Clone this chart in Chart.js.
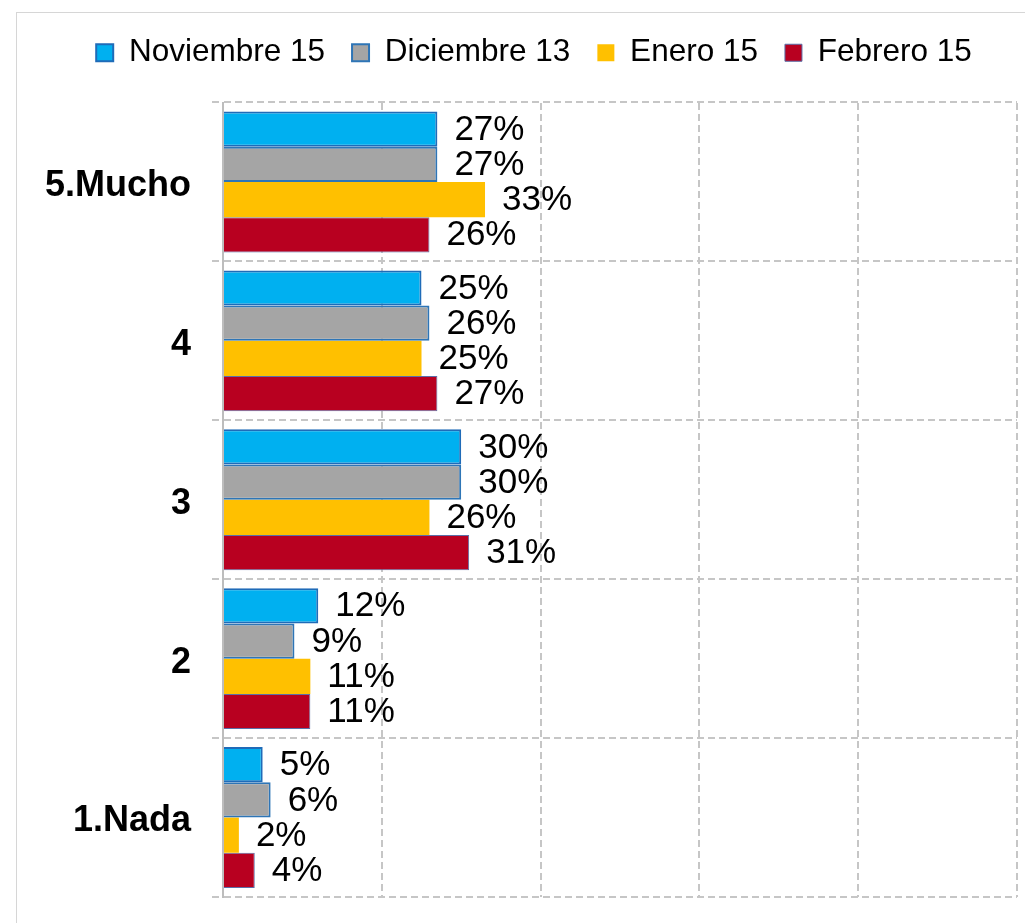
<!DOCTYPE html>
<html>
<head>
<meta charset="utf-8">
<script src="https://cdn.jsdelivr.net/npm/chart.js@4.4.0/dist/chart.umd.min.js"></script>
<style>
body { margin: 0; background: #fff; overflow: hidden; }
#frame { position: absolute; left: 16px; top: 12px; width: 1040px; height: 940px; border: 1px solid #d6d6d6; }
</style>
</head>
<body>
<div id="frame"><canvas id="myChart" width="1040" height="940"></canvas></div>
<script>
var Categorias = ['5.Mucho', '4', '3', '2', '1.Nada'];
var Noviembre15 = [27, 25, 30, 12, 5];
var Diciembre13 = [27, 26, 30, 9, 6];
var Enero15 = [33, 25, 26, 11, 2];
var Febrero15 = [26, 27, 31, 11, 4];
var xTicks = [0, 20, 40, 60, 80, 100];

var fuente = '"Liberation Sans", Arial, sans-serif';
var gridColor = '#c6c6c6';

// etiquetas de porcentaje al final de cada barra
var etiquetas = {
  id: 'etiquetas',
  afterDatasetsDraw: function(chart) {
    var c = chart.ctx;
    c.save();
    c.font = '35px ' + fuente;
    c.fillStyle = '#000';
    c.textAlign = 'left';
    c.textBaseline = 'middle';
    chart.data.datasets.forEach(function(ds, i) {
      chart.getDatasetMeta(i).data.forEach(function(bar, j) {
        c.fillText(ds.data[j] + '%', bar.x + 17, bar.y + 1);
      });
    });
    c.restore();
  }
};

var ctx = document.getElementById('myChart');
var myChart = new Chart(ctx, {
  type: 'bar',
  data: {
    labels: Categorias,
    datasets: [{
      label: 'Noviembre 15',
      backgroundColor: '#00B0F0',
      borderColor: '#1F6BB8',
      borderWidth: 2,
      data: Noviembre15
    }, {
      label: 'Diciembre 13',
      backgroundColor: '#A5A5A5',
      borderColor: '#2E75B6',
      borderWidth: 2,
      data: Diciembre13
    }, {
      label: 'Enero 15',
      backgroundColor: '#FFC000',
      borderColor: '#FFC000',
      borderWidth: 0,
      data: Enero15
    }, {
      label: 'Febrero 15',
      backgroundColor: '#B80020',
      borderColor: '#5B6FA8',
      borderWidth: 1,
      data: Febrero15
    }]
  },
  options: {
    indexAxis: 'y',
    responsive: false,
    animation: false,
    categoryPercentage: 0.887,
    barPercentage: 1,
    layout: { padding: { left: 20, right: 26, top: -3, bottom: 56 } },
    plugins: {
      tooltip: { enabled: false },
      legend: {
        position: 'top',
        labels: {
          font: { family: fuente, size: 31.5 },
          color: '#000',
          boxWidth: 17,
          boxHeight: 17,
          padding: 27
        }
      }
    },
    scales: {
      x: {
        position: 'top',
        min: 0,
        max: 100,
        afterBuildTicks: function(scale) {
          scale.ticks = xTicks.map(function(v) { return { value: v }; });
        },
        afterFit: function(scale) { scale.height = 24; },
        ticks: { display: false },
        border: { display: false, dash: [7, 4] },
        grid: { color: gridColor, lineWidth: 2, drawTicks: false }
      },
      y: {
        afterFit: function(scale) { scale.width = 186; },
        ticks: {
          color: '#000',
          padding: 21,
          labelOffset: 4,
          font: { family: fuente, size: 36, weight: 'bold' }
        },
        border: { display: true, color: '#bdbdbd', width: 2, dash: [7, 4] },
        grid: {
          offset: true,
          color: gridColor,
          lineWidth: 2,
          tickLength: 11,
          tickColor: gridColor,
          tickBorderDash: [7, 4]
        }
      },
      // eje vacio a la derecha, solo para dejar hueco
      y2: {
        type: 'linear',
        position: 'right',
        afterFit: function(scale) { scale.width = 14; },
        ticks: { display: false },
        border: { display: false },
        grid: { display: false }
      }
    }
  },
  plugins: [etiquetas]
});
</script>
</body>
</html>
